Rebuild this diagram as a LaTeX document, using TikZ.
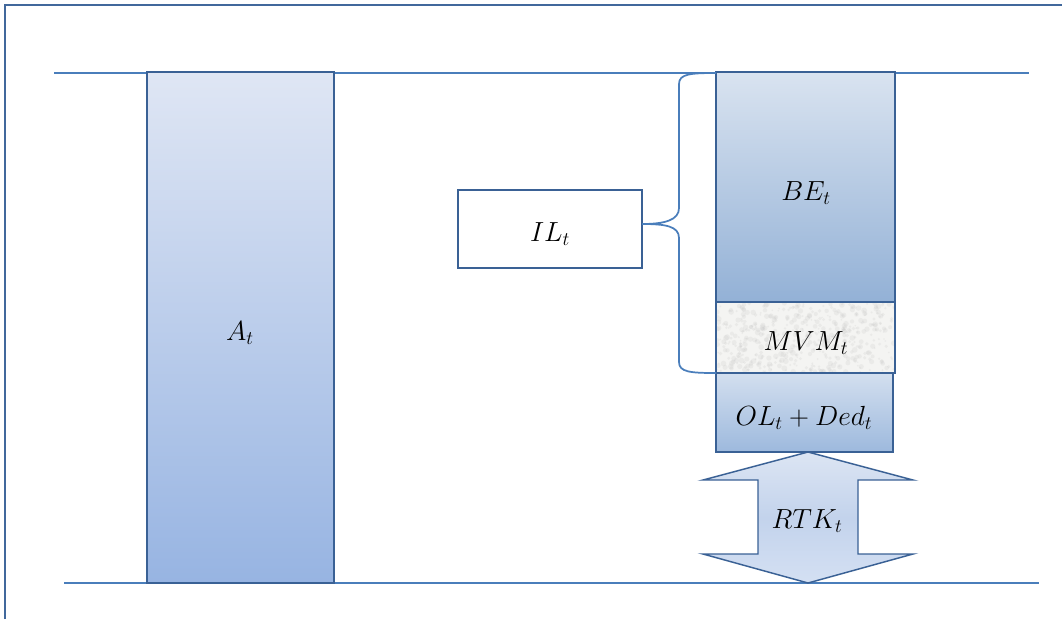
\documentclass[tikz,border=0pt]{standalone}
\usetikzlibrary{calc}
\definecolor{frameblue}{HTML}{41689C}
\definecolor{lineblue}{HTML}{4A7EBB}
\definecolor{boxblue}{HTML}{3A6195}
\definecolor{atop}{HTML}{DFE6F4}
\definecolor{abot}{HTML}{97B4E2}
\definecolor{betop}{HTML}{D9E3F0}
\definecolor{bebot}{HTML}{93B1D6}
\definecolor{oltop}{HTML}{D3DFEF}
\definecolor{olbot}{HTML}{9DB9DD}
\definecolor{artop}{HTML}{DCE5F3}
\definecolor{armid}{HTML}{C3D3EC}
\definecolor{arbot}{HTML}{D4E0F3}
\definecolor{mvmfill}{HTML}{F4F4F2}
\tikzset{
  px/.style={x=0.75pt,y=-0.75pt},
  bar/.style={draw=boxblue,line width=1.1pt,inner sep=0pt,outer sep=0pt,anchor=north west,rectangle},
  rule/.style={draw=lineblue,line width=1.5pt},
  lbl/.style={font=\fontsize{20}{24}\selectfont}
}
\begin{document}
\begin{tikzpicture}[px]
\useasboundingbox (0,0) rectangle (1062,619);
% frame
\draw[frameblue,line width=1.6pt] (5,619) -- (5,5) -- (1062,5);
% horizontal rules
\coordinate (tl) at (54,73); \coordinate (tr) at (1029,73);
\coordinate (bl) at (64,583); \coordinate (br) at (1039,583);
\draw[rule] (tl) -- (tr);
\draw[rule] (bl) -- (br);
% A_t
\node[bar,top color=atop,bottom color=abot,minimum width=140.25pt,minimum height=383.25pt] (A) at (147,72) {};
\node[lbl] (Alab) at (240,333) {$A_t$};
% BE_t
\node[bar,top color=betop,bottom color=bebot,minimum width=134.25pt,minimum height=172.5pt] (BE) at (716,72) {};
\node[lbl] (BElab) at (806,193) {$BE_t$};
% MVM_t
\node[bar,fill=mvmfill,minimum width=134.25pt,minimum height=53.25pt] (MVM) at (716,302) {};
\begin{scope}
\clip (717,303) rectangle (894,372);
\pgfmathsetseed{7}
\foreach \i in {1,...,500}{
  \pgfmathsetmacro{\xx}{717+177*rnd}
  \pgfmathsetmacro{\yy}{303+69*rnd}
  \pgfmathsetmacro{\rr}{0.6+1.6*rnd}
  \fill[black!25!white, opacity=0.18] (\xx,\yy) circle (\rr pt);
}
\end{scope}
\draw[boxblue,line width=1.1pt] (MVM.north west) rectangle (MVM.south east);
\node[lbl] (MVMlab) at (806,343) {$MVM_t$};
% OL_t + Ded_t
\node[bar,top color=oltop,bottom color=olbot,minimum width=132.75pt,minimum height=59.25pt] (OL) at (716,373) {};
\node[lbl] (OLlab) at (804,418) {$OL_t+Ded_t$};
% IL_t
\node[bar,fill=white,minimum width=138pt,minimum height=58.5pt] (IL) at (458,190) {};
\node[lbl] (ILlab) at (550,234) {$IL_t$};
% brace
\coordinate (bt) at (716,73);
\coordinate (bb) at (716,373);
\coordinate (tip) at ($(IL.east)+(0,-5)$);
\draw[lineblue,line width=1.3pt]
  (bt) .. controls (690,73) and (679,74) .. (679,84)
  -- (679,208) .. controls (679,220) and (665,224) .. (tip)
  (tip) .. controls (665,224) and (679,226) .. (679,238)
  -- (679,362) .. controls (679,372) and (690,373) .. (bb);
% double arrow RTK_t
\draw[boxblue,line width=1.1pt,top color=artop,bottom color=arbot,middle color=armid,line join=miter]
  (808,452) -- (913,480) -- (858,480) -- (858,554) -- (913,554) -- (808,583)
  -- (703,554) -- (758,554) -- (758,480) -- (703,480) -- cycle;
\node[lbl] (RTK) at (807,521) {$RTK_t$};
\end{tikzpicture}
\end{document}
